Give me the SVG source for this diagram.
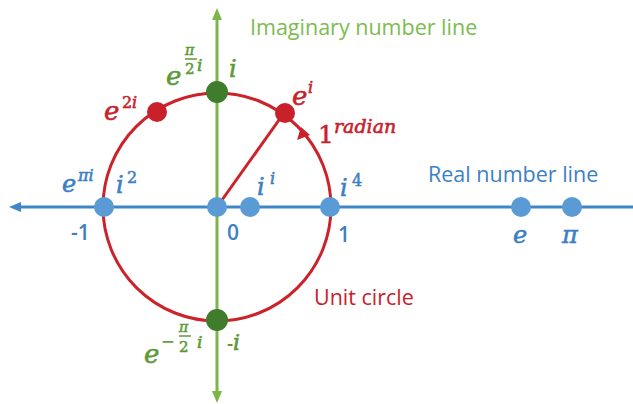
<svg xmlns="http://www.w3.org/2000/svg" width="633" height="404" viewBox="0 0 633 404">
<style>
.lbl{font-family:"Open Sans","Liberation Sans",sans-serif}
.m{font-family:"DejaVu Serif","Liberation Serif",serif;font-style:italic;stroke-width:0.6}
.d{font-family:"DejaVu Serif","Liberation Serif",serif;font-style:normal;stroke-width:0.5}
.blue{fill:#3d7fc4}
.m.blue,.d.blue{stroke:#3d7fc4}
.red{fill:#c8212b}
.m.red,.d.red{stroke:#c8212b}
.green{fill:#5c9a37}
.m.green,.d.green{stroke:#5c9a37}
.bdot{fill:#5b9bd5}
.gdot{fill:#3f7d2c}
.rdot{fill:#c8212b}
</style>
<rect width="633" height="404" fill="#ffffff"/>
<g id="connectors">
  <line x1="16" y1="207" x2="633" y2="207" stroke="#3f86c9" stroke-width="3"/>
  <polygon points="9,207 21,202 21,212" fill="#3f86c9"/>
  <line x1="217" y1="16" x2="217" y2="395" stroke="#7ab648" stroke-width="3"/>
  <polygon points="217,8 212,20 222,20" fill="#7ab648"/>
  <polygon points="217,403 212,391 222,391" fill="#7ab648"/>
  <circle cx="217" cy="207" r="114" fill="none" stroke="#cc2229" stroke-width="3"/>
  <line x1="217" y1="207" x2="284" y2="113" stroke="#cc2229" stroke-width="3"/>
  <polygon points="301,127 297,140 310,135" fill="#cc2229"/>
</g>
<g id="labels">
  <text class="lbl" x="250" y="35" font-size="21.5" fill="#7dbb50">Imaginary number line</text>
  <text class="lbl blue" x="428" y="182" font-size="21.5">Real number line</text>
  <text class="lbl red" x="314" y="305" font-size="21.5">Unit circle</text>
</g>
<g id="n-minus1">
  <circle class="bdot" cx="104" cy="207" r="10"/>
  <text class="lbl blue" x="71" y="240" font-size="21" font-weight="600">-1</text>
  <text class="m blue" x="62" y="192" font-size="24">e</text>
  <text class="m blue" x="78" y="181" font-size="16">πi</text>
  <text class="m blue" x="116" y="193" font-size="24">i</text>
  <text class="d blue" x="127" y="183" font-size="16">2</text>
</g>
<g id="n-zero">
  <circle class="bdot" cx="217" cy="207" r="10"/>
  <text class="lbl blue" x="227" y="240" font-size="21" font-weight="600">0</text>
</g>
<g id="n-ii">
  <circle class="bdot" cx="250" cy="207" r="10"/>
  <text class="m blue" x="257" y="195" font-size="24">i</text>
  <text class="m blue" x="270" y="184" font-size="16">i</text>
</g>
<g id="n-one">
  <circle class="bdot" cx="330" cy="207" r="10"/>
  <text class="lbl blue" x="338" y="242" font-size="21" font-weight="600">1</text>
  <text class="m blue" x="340" y="196" font-size="24">i</text>
  <text class="d blue" x="352" y="186" font-size="16">4</text>
</g>
<g id="n-e">
  <circle class="bdot" cx="521" cy="207" r="10"/>
  <text class="m blue" x="513" y="243" font-size="24">e</text>
</g>
<g id="n-pi">
  <circle class="bdot" cx="572" cy="207" r="10"/>
  <text class="m blue" x="562" y="243" font-size="24">π</text>
</g>
<g id="n-i">
  <circle class="gdot" cx="217" cy="92" r="11"/>
  <text class="m green" x="166" y="85" font-size="26">e</text>
  <text class="m green" x="185" y="55" font-size="14">π</text>
  <line x1="185" y1="59" x2="197" y2="59" stroke="#5c9a37" stroke-width="1.5"/>
  <text class="d green" x="185" y="74" font-size="15">2</text>
  <text class="m green" x="197" y="71" font-size="17">i</text>
  <text class="m green" x="229" y="77" font-size="24">i</text>
</g>
<g id="n-minus-i">
  <circle class="gdot" cx="217" cy="320" r="11"/>
  <text class="m green" x="144" y="363" font-size="26">e</text>
  <text class="d green" x="161" y="347" font-size="16">−</text>
  <text class="m green" x="179" y="332" font-size="14">π</text>
  <line x1="179" y1="336" x2="191" y2="336" stroke="#5c9a37" stroke-width="1.5"/>
  <text class="d green" x="179" y="352" font-size="15">2</text>
  <text class="m green" x="197" y="348" font-size="17">i</text>
  <text class="lbl green" x="227" y="350" font-size="19" font-weight="600">-</text>
  <text class="m green" x="233" y="350" font-size="22">i</text>
</g>
<g id="n-e2i">
  <circle class="rdot" cx="157" cy="112" r="10"/>
  <text class="m red" x="104" y="120" font-size="26">e</text>
  <text class="d red" x="122" y="108" font-size="16">2</text>
  <text class="m red" x="132" y="108" font-size="16">i</text>
</g>
<g id="n-ei">
  <circle class="rdot" cx="285" cy="113" r="10"/>
  <text class="m red" x="292" y="105" font-size="26">e</text>
  <text class="m red" x="308" y="93" font-size="16">i</text>
  <text class="d red" x="318" y="143" font-size="25">1</text>
  <text class="m red" x="334" y="133" font-size="19">radian</text>
</g>
</svg>
